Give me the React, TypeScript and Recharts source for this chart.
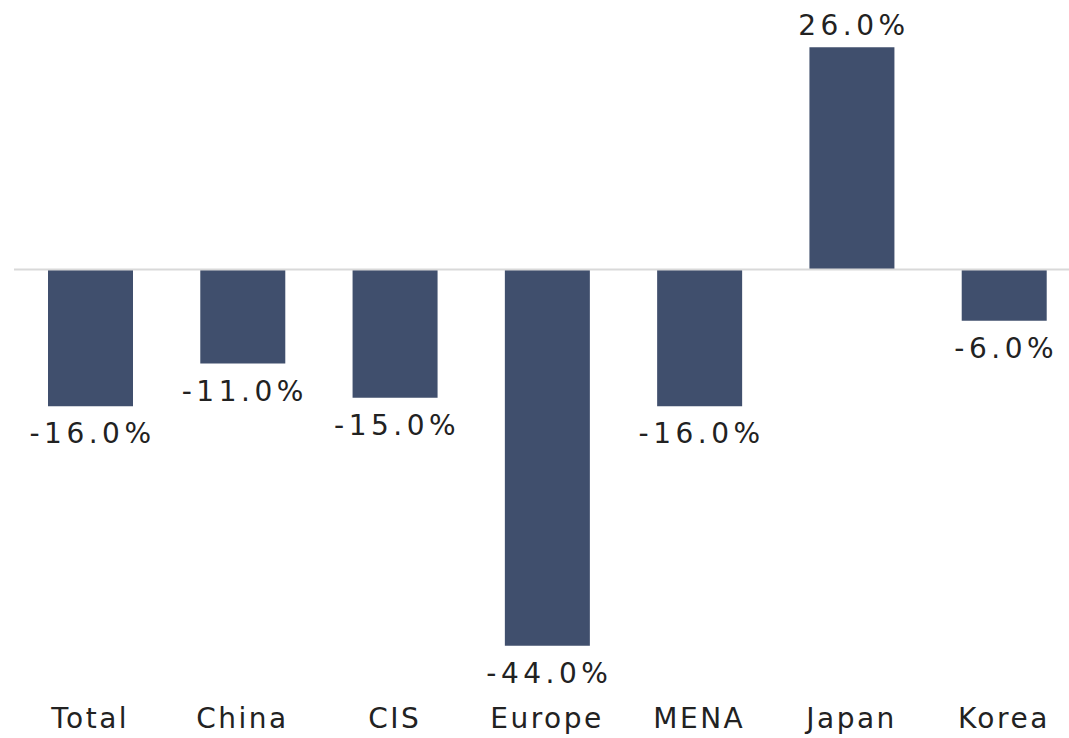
import { Bar, BarChart, LabelList, ReferenceLine, XAxis, YAxis } from 'recharts';

const regions = ['Total', 'China', 'CIS', 'Europe', 'MENA', 'Japan', 'Korea'];
const growth = [-16, -11, -15, -44, -16, 26, -6];

const data = regions.map((region, i) => ({ region, growth: growth[i] }));

const FONT = '"DejaVu Sans", sans-serif';

function ValueLabel(props: any) {
  const { x, y, width, height, value } = props;
  const top = Math.min(y, y + height);
  const bottom = Math.max(y, y + height);
  const ty = value >= 0 ? top - 12 : bottom + 37;
  return (
    <text
      x={x + width / 2 + 2}
      y={ty}
      textAnchor="middle"
      fontFamily={FONT}
      fontSize={28}
      letterSpacing={4.5}
      fill="#222"
    >
      {`${value.toFixed(1)}%`}
    </text>
  );
}

export default function App() {
  return (
    <div style={{ width: 1069, height: 738, overflow: 'hidden' }}>
      <style>{'body{margin:0;overflow:hidden;}'}</style>
      <BarChart
        width={1080}
        height={738}
        data={data}
        margin={{ top: 13, right: 0, bottom: 0, left: 14 }}
      >
        <XAxis
          dataKey="region"
          axisLine={false}
          tickLine={false}
          height={41}
          tickSize={6}
          tickMargin={5}
          interval={0}
          tick={{ fontFamily: FONT, fontSize: 28, fill: '#222', letterSpacing: 2.5 }}
        />
        <YAxis hide domain={[-50, 30]} />
        <ReferenceLine y={0} stroke="#d9d9d9" strokeWidth={2} />
        <Bar dataKey="growth" fill="#404f6d" barSize={85} isAnimationActive={false}>
          <LabelList dataKey="growth" content={ValueLabel} />
        </Bar>
      </BarChart>
    </div>
  );
}
